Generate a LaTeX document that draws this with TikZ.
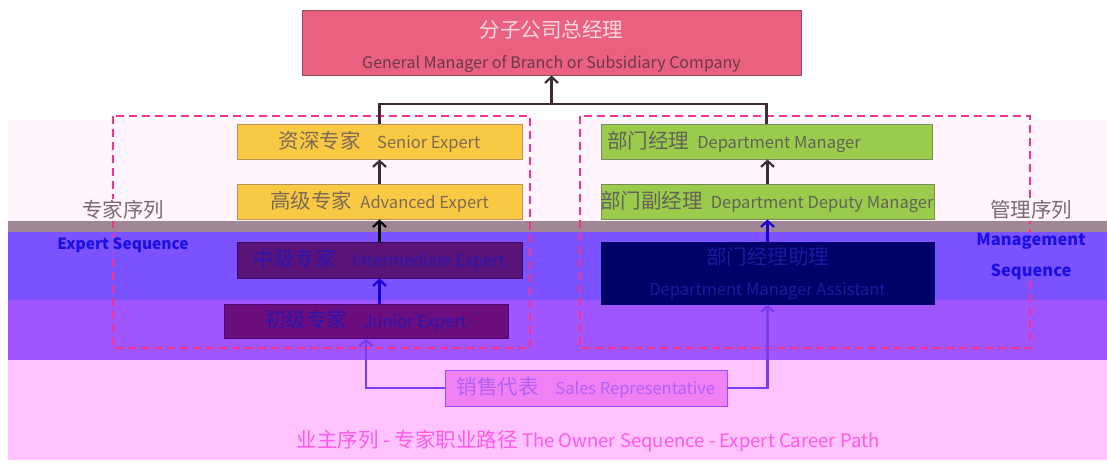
\documentclass[tikz,border=0pt]{standalone}
\usepackage{fontspec}
\setmainfont{Noto Sans CJK SC}
\usetikzlibrary{positioning, arrows.meta}

\definecolor{gmfill}{HTML}{E9617F}
\definecolor{gmdraw}{HTML}{9C4A5E}
\definecolor{gmzh}{HTML}{FBD9E2}
\definecolor{gmen}{HTML}{6B3848}
\definecolor{expfill}{HTML}{F9C944}
\definecolor{expdraw}{HTML}{B5955A}
\definecolor{exptext}{HTML}{7D6A55}
\definecolor{mgrfill}{HTML}{9BCB4B}
\definecolor{mgrdraw}{HTML}{7A8B5A}
\definecolor{mgrtext}{HTML}{62625A}
\definecolor{intfill}{HTML}{5A1478}
\definecolor{intdraw}{HTML}{3A0A6A}
\definecolor{inttext}{HTML}{2C14B0}
\definecolor{junfill}{HTML}{6C0E7E}
\definecolor{jundraw}{HTML}{4A0870}
\definecolor{asstfill}{HTML}{000068}
\definecolor{assttext}{HTML}{1A1AA0}
\definecolor{salesfill}{HTML}{F081F5}
\definecolor{salesdraw}{HTML}{9A50F5}
\definecolor{salestext}{HTML}{B060F5}
\definecolor{foottext}{HTML}{FF5AE8}
\definecolor{lightband}{HTML}{FFF4FC}
\definecolor{grayband}{HTML}{9F8796}
\definecolor{blueband}{HTML}{7C52FF}
\definecolor{purpleband}{HTML}{A055FF}
\definecolor{pinkband}{HTML}{FFC4FF}
\definecolor{seqblue}{HTML}{1A10E0}
\definecolor{seqgray}{HTML}{7A6A70}
\definecolor{dashpink}{HTML}{F5338F}
\definecolor{arrowdark}{HTML}{3E2C34}
\definecolor{arrowblue}{HTML}{1800D8}
\definecolor{saleline}{HTML}{7A3CF0}

\newcommand\cnword[1]{{\fontsize{20.5}{23}\selectfont #1}}

\tikzset{
  >={Straight Barb[length=6pt, width=13pt]},
  rolebox/.style={draw, line width=0.9pt, minimum height=35pt, inner sep=0pt,
    font=\fontsize{16.5}{19}\selectfont},
  expbox/.style={rolebox, fill=expfill, draw=expdraw, text=exptext, minimum width=285pt},
  mgrbox/.style={rolebox, fill=mgrfill, draw=mgrdraw, text=mgrtext},
  linkline/.style={line width=2.2pt, draw=arrowdark},
  uparrow/.style={->, linkline},
  grouprect/.style={draw=dashpink, line width=1.8pt, dash pattern=on 8pt off 5pt},
  seqlabel/.style={inner sep=1pt, font=\fontsize{16}{18}\selectfont\bfseries}
}

\begin{document}
\begin{tikzpicture}[x=1pt, y=-1pt]
\useasboundingbox (0,0) rectangle (1107,466);
\fill[white] (0,0) rectangle (1107,466);

% colour bands
\fill[lightband] (8,120) rectangle (1107,221);
\fill[grayband] (8,221) rectangle (1107,232);
\fill[blueband] (8,232) rectangle (1107,300);
\fill[purpleband] (8,300) rectangle (1107,360);
\fill[pinkband] (8,360) rectangle (1107,460);

% sequence groups
\draw[grouprect] (113,116) rectangle (530,348);
\draw[grouprect] (580,116) rectangle (1030,348);

% top
\node[rolebox, fill=gmfill, draw=gmdraw, text=gmen, minimum width=499pt,
  minimum height=65pt, align=center, font=\fontsize{16}{19}\selectfont] (gm) at (551.5,42.5)
  {\rule{0pt}{24pt}{\color{gmzh}\cnword{分子公司总经理}}\\[12pt]General Manager of Branch or Subsidiary Company};

% expert sequence
\node[expbox] (senior) at (379.5,141.5) {\cnword{资深专家}\quad Senior Expert};
\node[expbox] (advanced) at (379.5,201.5) {\cnword{高级专家}\enspace Advanced Expert};
\node[rolebox, fill=intfill, draw=intdraw, text=inttext, minimum width=285pt,
  minimum height=36pt] (intermediate) at (379.5,260) {\cnword{中级专家}\quad Intermediate Expert};
\node[rolebox, fill=junfill, draw=jundraw, text=inttext, minimum width=284pt,
  minimum height=34pt] (junior) at (366,321) {\cnword{初级专家}\quad Junior Expert};

% management sequence
\node[mgrbox, minimum width=331pt] (mgr) at (766.5,141.5)
  {\makebox[319pt][l]{\cnword{部门经理}\enspace Department Manager}};
\node[mgrbox, minimum width=333pt] (deputy) at (767.5,201.5)
  {\makebox[333pt][l]{\hspace{-1pt}\cnword{部门副经理}\enspace Department Deputy Manager}};
\node[rolebox, fill=asstfill, draw=asstfill, text=assttext, minimum width=333pt,
  minimum height=62pt, align=center] (assistant) at (767.5,273)
  {\cnword{部门经理助理}\\[12pt]Department Manager Assistant};

% owner sequence
\node[rolebox, fill=salesfill, draw=salesdraw, text=salestext, minimum width=282pt,
  minimum height=36pt] (sales) at (586,388) {\cnword{销售代表}\quad Sales Representative};

% labels
\node[seqlabel, fill=lightband, text=seqgray, font=\mdseries] (expzh) at (123,210) {\cnword{专家序列}};
\node[seqlabel, fill=blueband, text=seqblue, font=\fontsize{15.5}{18}\selectfont\bfseries]
  (expen) at (123,245) {Expert Sequence};
\node[seqlabel, fill=lightband, text=seqgray, font=\mdseries] (mgtzh) at (1031,210) {\cnword{管理序列}};
\node[seqlabel, fill=blueband, text=seqblue, align=center,
  font=\fontsize{16.5}{31}\selectfont\bfseries] (mgten) at (1031,257) {Management\\Sequence};
\node[text=foottext, font=\fontsize{18.5}{22}\selectfont] (foot) at (588,441)
  {{\fontsize{20.5}{24}\selectfont 业主序列 - 专家职业路径} The Owner Sequence - Expert Career Path};

% connectors
\coordinate (join) at (551.5,104);
\draw[linkline] (senior.north) |- (join) -| (mgr.north);
\draw[uparrow] (join) -- (gm);
\draw[uparrow] (advanced) -- (senior);
\draw[uparrow, draw=black] (intermediate) -- (advanced);
\draw[uparrow, draw=arrowblue] (intermediate.south |- junior.north) -- (intermediate.south);
\draw[uparrow] (deputy.north) -- (deputy.north |- mgr.south);
\draw[uparrow, draw=arrowblue] (assistant.north) -- (assistant.north |- deputy.south);
\draw[uparrow, draw=saleline] (sales.west) -| (junior.south);
\draw[uparrow, draw=saleline] (sales.east) -| (assistant.south);
\end{tikzpicture}
\end{document}
